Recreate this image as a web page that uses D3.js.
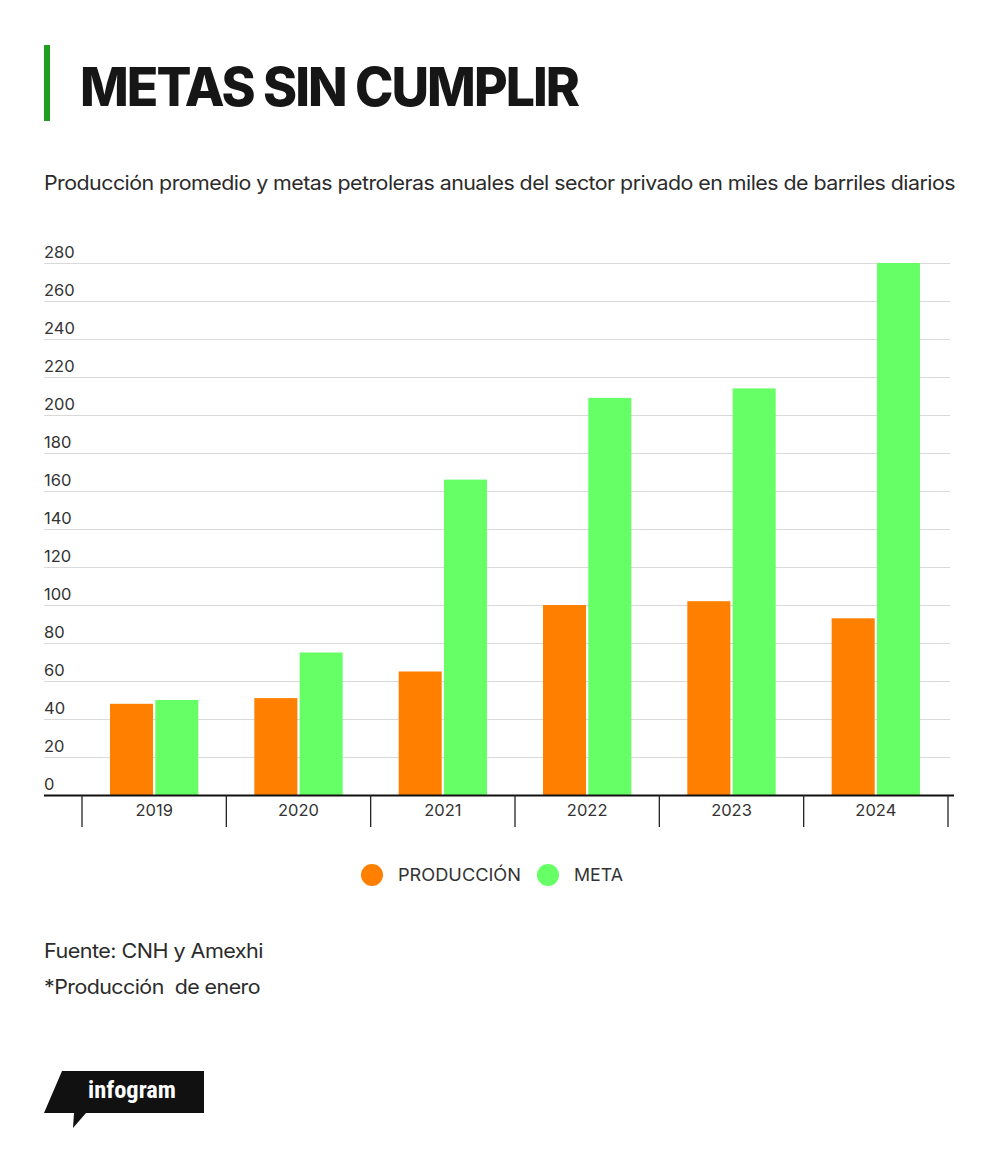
<!DOCTYPE html>
<html>
<head>
<meta charset="utf-8">
<script src="https://cdn.jsdelivr.net/npm/d3@7"></script>
<style>
  body { margin: 0; background: #fff; }
  svg { display: block; }
</style>
</head>
<body>
<div id="chart"></div>
<script>
/* global d3 */

const years = ['2019', '2020', '2021', '2022', '2023', '2024']
const produccion = [48, 51, 65, 100, 102, 93]
const meta = [50, 75, 166, 209, 214, 280]
const yTicks = [0, 20, 40, 60, 80, 100, 120, 140, 160, 180, 200, 220, 240, 260, 280]
const seriesNames = ['PRODUCCIÓN', 'META']
const seriesColors = ['#ff7f00', '#66ff66']

const width = 1000
const height = 1151
const font = 'Inter, "Liberation Sans", Arial, sans-serif'

let svg = d3.select('#chart').append('svg')
  .attr('width', width)
  .attr('height', height)

svg.append('rect')
  .attr('width', width)
  .attr('height', height)
  .attr('fill', '#fff')

// header
svg.append('rect')
  .attr('x', 44)
  .attr('y', 45)
  .attr('width', 6)
  .attr('height', 76)
  .attr('fill', '#1f9e1f')

svg.append('text')
  .text('METAS SIN CUMPLIR')
  .attr('x', 80)
  .attr('y', 106)
  .attr('textLength', 498)
  .attr('lengthAdjust', 'spacingAndGlyphs')
  .style('font-family', font)
  .style('font-weight', 800)
  .style('font-size', '53px')
  .style('letter-spacing', '-2px')
  .attr('fill', '#161616')

svg.append('text')
  .text('Producción promedio y metas petroleras anuales del sector privado en miles de barriles diarios')
  .attr('x', 44)
  .attr('y', 190)
  .attr('textLength', 911)
  .attr('lengthAdjust', 'spacingAndGlyphs')
  .style('font-family', font)
  .style('font-size', '20px')
  .style('letter-spacing', '-0.5px')
  .attr('fill', '#2b2b2b')

// chart
let plot = {left: 82, right: 948, top: 263, bottom: 795}

let x = d3.scaleBand()
  .domain(years)
  .range([plot.left, plot.right])
  .paddingInner(0)
  .paddingOuter(0)

let inner = d3.scaleBand()
  .domain(seriesNames)
  .range([28, x.bandwidth() - 28])
  .paddingInner(0.05)

let y = d3.scaleLinear()
  .domain([0, 280])
  .range([plot.bottom, plot.top])

let grid = svg.append('g')
grid.selectAll('line')
  .data(yTicks)
  .enter().append('line')
  .attr('x1', 44)
  .attr('x2', 950)
  .attr('y1', d => Math.round(y(d)) + 0.5)
  .attr('y2', d => Math.round(y(d)) + 0.5)
  .attr('stroke', '#d9d9d9')
  .attr('stroke-width', 1)

grid.selectAll('text')
  .data(yTicks)
  .enter().append('text')
  .text(d => d)
  .attr('x', 44)
  .attr('y', d => y(d) - 5)
  .style('font-family', font)
  .style('font-size', '16.5px')
  .attr('fill', '#333')

let groups = svg.append('g').selectAll('g')
  .data(years)
  .enter().append('g')
  .attr('transform', d => 'translate(' + x(d) + ',0)')

groups.selectAll('rect')
  .data((d, i) => [produccion[i], meta[i]].map((v, j) => ({key: seriesNames[j], value: v, color: seriesColors[j]})))
  .enter().append('rect')
  .attr('x', d => inner(d.key))
  .attr('y', d => y(d.value))
  .attr('width', inner.bandwidth())
  .attr('height', d => y(0) - y(d.value))
  .attr('fill', d => d.color)

// x axis
let xAxis = d3.axisBottom(x).tickSize(0).tickPadding(9)
let ax = svg.append('g')
  .attr('transform', 'translate(0,' + plot.bottom + ')')
  .call(xAxis)
ax.select('.domain').remove()
ax.selectAll('text')
  .style('font-family', font)
  .style('font-size', '16.5px')
  .attr('fill', '#333')

svg.append('line')
  .attr('x1', 44)
  .attr('x2', 954)
  .attr('y1', plot.bottom + 0.5)
  .attr('y2', plot.bottom + 0.5)
  .attr('stroke', '#111')
  .attr('stroke-width', 2)

let bounds = years.map(d => x(d)).concat([x(years[years.length - 1]) + x.bandwidth()])
svg.append('g').selectAll('line')
  .data(bounds)
  .enter().append('line')
  .attr('x1', d => d)
  .attr('x2', d => d)
  .attr('y1', plot.bottom)
  .attr('y2', plot.bottom + 32)
  .attr('stroke', '#222')
  .attr('stroke-width', 1.3)

// legend
let legendX = [372, 548]
let legendW = [123, 49]
let legend = svg.append('g').selectAll('g')
  .data(seriesNames)
  .enter().append('g')
  .attr('transform', (d, i) => 'translate(' + legendX[i] + ',875)')
legend.append('circle')
  .attr('r', 11)
  .attr('fill', (d, i) => seriesColors[i])
legend.append('text')
  .text(d => d)
  .attr('x', 26)
  .attr('y', 6)
  .attr('textLength', (d, i) => legendW[i])
  .attr('lengthAdjust', 'spacingAndGlyphs')
  .style('font-family', font)
  .style('font-size', '17px')
  .attr('fill', '#333')

// footer
svg.append('text')
  .text('Fuente: CNH y Amexhi')
  .attr('x', 44)
  .attr('y', 958)
  .attr('textLength', 219)
  .attr('lengthAdjust', 'spacingAndGlyphs')
  .style('font-family', font)
  .style('font-size', '20px')
  .style('letter-spacing', '-0.5px')
  .attr('fill', '#2b2b2b')

svg.append('text')
  .text('*Producción  de enero')
  .attr('x', 44)
  .attr('y', 994)
  .attr('textLength', 216)
  .attr('lengthAdjust', 'spacingAndGlyphs')
  .style('font-family', font)
  .style('font-size', '20px')
  .style('letter-spacing', '-0.5px')
  .style('white-space', 'pre')
  .attr('fill', '#2b2b2b')

// infogram badge
svg.append('path')
  .attr('d', 'M62,1071 L204,1071 L204,1113 L86,1113 L73,1128 L74,1113 L44,1113 Z')
  .attr('fill', '#111')

svg.append('text')
  .text('infogram')
  .attr('x', 88)
  .attr('y', 1098)
  .attr('textLength', 88)
  .attr('lengthAdjust', 'spacingAndGlyphs')
  .style('font-family', '"Roboto Condensed", Roboto, sans-serif')
  .style('font-weight', 700)
  .style('font-size', '23px')
  .attr('fill', '#fff')
</script>
</body>
</html>
